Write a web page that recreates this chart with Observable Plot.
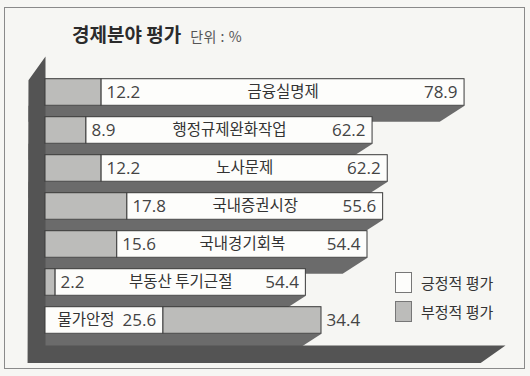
<!DOCTYPE html>
<html>
<head>
<meta charset="utf-8">
<script src="https://cdn.jsdelivr.net/npm/d3@7"></script>
<script src="https://cdn.jsdelivr.net/npm/@observablehq/plot@0.6"></script>
<style>
  html, body { margin: 0; padding: 0; background: #f6f6f3; }
  #wrap { position: relative; width: 530px; height: 376px; overflow: hidden; }
  #frame { position: absolute; left: 4px; top: 7px; width: 521px; height: 362px; border: 1px solid #8a8a8a; box-sizing: border-box; }
  #chart { position: absolute; left: 0; top: 0; }
  #title { position: absolute; left: 72px; top: 20px; font-family: "Noto Sans CJK KR", sans-serif; color: #2b2b2b; white-space: nowrap; }
  #title b { font-size: 19px; font-weight: 700; }
  #title span { font-size: 14px; color: #555; margin-left: 9px; letter-spacing: 0.5px; }
  .lg { position: absolute; left: 395px; font-family: "Noto Sans CJK KR", sans-serif; font-size: 15px; color: #333; white-space: nowrap; }
  .lg i { position: absolute; left: 0; top: 0; width: 17px; height: 21px; border: 1px solid #777; box-sizing: border-box; }
  .lg em { position: absolute; left: 26px; top: 0; line-height: 21px; font-style: normal; }
</style>
</head>
<body>
<div id="wrap">
  <div id="frame"></div>
  <div id="chart"></div>
  <div id="title"><b>경제분야 평가</b><span>단위 : %</span></div>
  <div id="legend"></div>
</div>
<script>
// ---- data ----
const categories = ["금융실명제", "행정규제완화작업", "노사문제", "국내증권시장", "국내경기회복", "부동산 투기근절", "물가안정"];
const positive = [78.9, 62.2, 62.2, 55.6, 54.4, 54.4, 25.6];   // 긍정적 평가
const negative = [12.2, 8.9, 12.2, 17.8, 15.6, 2.2, 34.4];     // 부정적 평가
const negativeFirst = [true, true, true, true, true, true, false];
const seriesNames = ["긍정적 평가", "부정적 평가"];
const seriesColors = ["#fdfdfb", "#bcbcba"];

// ---- build rows/segments ----
const rows = categories.map((c, i) => {
  const nf = negativeFirst[i];
  const pos = positive[i], neg = negative[i];
  const white = nf ? [neg, neg + pos] : [0, pos];
  const gray = nf ? [0, neg] : [pos, pos + neg];
  return {i, c, pos, neg, nf, white, gray, total: pos + neg};
});
const segments = rows.flatMap(r => [
  {i: r.i, x1: r.gray[0], x2: r.gray[1], s: seriesNames[1]},
  {i: r.i, x1: r.white[0], x2: r.white[1], s: seriesNames[0]}
]);

const H = 0.35;        // half bar thickness (row units)
const DY = 0.42;       // depth (row units)
const DX = 5.4;        // depth slant (value units)
const WALL = -3.7;     // wall thickness (value units)
const XMAX = 100;

const shadows = rows.flatMap(r => {
  const yb = r.i + H;
  return [
    {id: r.i, x: WALL, y: yb},
    {id: r.i, x: r.total, y: yb},
    {id: r.i, x: r.total - DX, y: yb + DY},
    {id: r.i, x: WALL, y: yb + DY}
  ];
});
const last = categories.length - 1;
const floorTop = last + H + 0.31, floorBot = floorTop + 0.46;
const wallFloor = [
  {x: 0, y: -0.95}, {x: 0, y: floorTop}, {x: XMAX, y: floorTop},
  {x: XMAX - DX, y: floorBot}, {x: WALL - 0.2, y: floorBot}, {x: WALL, y: -0.32}
];

const numFont = "Open Sans, sans-serif";
const korFont = "Noto Sans CJK KR, sans-serif";

const plot = Plot.plot({
  width: 530,
  height: 376,
  x: {domain: [0, XMAX], range: [45, 505], axis: null},
  y: {domain: [0, last], range: [92, 320], axis: null},
  style: {background: "transparent", overflow: "visible"},
  marks: [
    Plot.line(shadows, {x: "x", y: "y", z: "id", fill: "#6b6b6b", stroke: "none"}),
    Plot.line(wallFloor, {x: "x", y: "y", fill: "#545454", stroke: "none"}),
    Plot.rect(segments, {
      x1: "x1", x2: "x2",
      y1: d => d.i - H, y2: d => d.i + H,
      fill: d => seriesColors[seriesNames.indexOf(d.s)],
      stroke: "#3a3a3a", strokeWidth: 1
    }),
    // negative values: right after the gray segment
    Plot.text(rows, {x: d => d.gray[1], y: "i", text: d => d.neg.toFixed(1), textAnchor: "start", dx: 5,
      fontFamily: numFont, fontSize: 17, fill: "#444"}),
    // positive values: at the end of the white segment
    Plot.text(rows, {x: d => d.white[1], y: "i", text: d => d.pos.toFixed(1), textAnchor: "end", dx: -7,
      fontFamily: numFont, fontSize: 17, fill: "#444"}),
    // category labels
    Plot.text(rows.filter(d => d.nf), {x: d => (d.white[0] + d.white[1]) / 2, y: "i", text: "c", textAnchor: "middle",
      fontFamily: korFont, fontSize: 15.5, fill: "#333"}),
    Plot.text(rows.filter(d => !d.nf), {x: d => d.white[0], y: "i", text: "c", textAnchor: "start", dx: 12,
      fontFamily: korFont, fontSize: 15.5, fill: "#333"})
  ]
});
document.getElementById("chart").appendChild(plot);

// legend
const legend = document.getElementById("legend");
seriesNames.forEach((name, k) => {
  const el = document.createElement("div");
  el.className = "lg";
  el.style.top = (272 + k * 28.5) + "px";
  el.innerHTML = `<i style="background:${seriesColors[k]}"></i><em>${name}</em>`;
  legend.appendChild(el);
});
</script>
</body>
</html>
